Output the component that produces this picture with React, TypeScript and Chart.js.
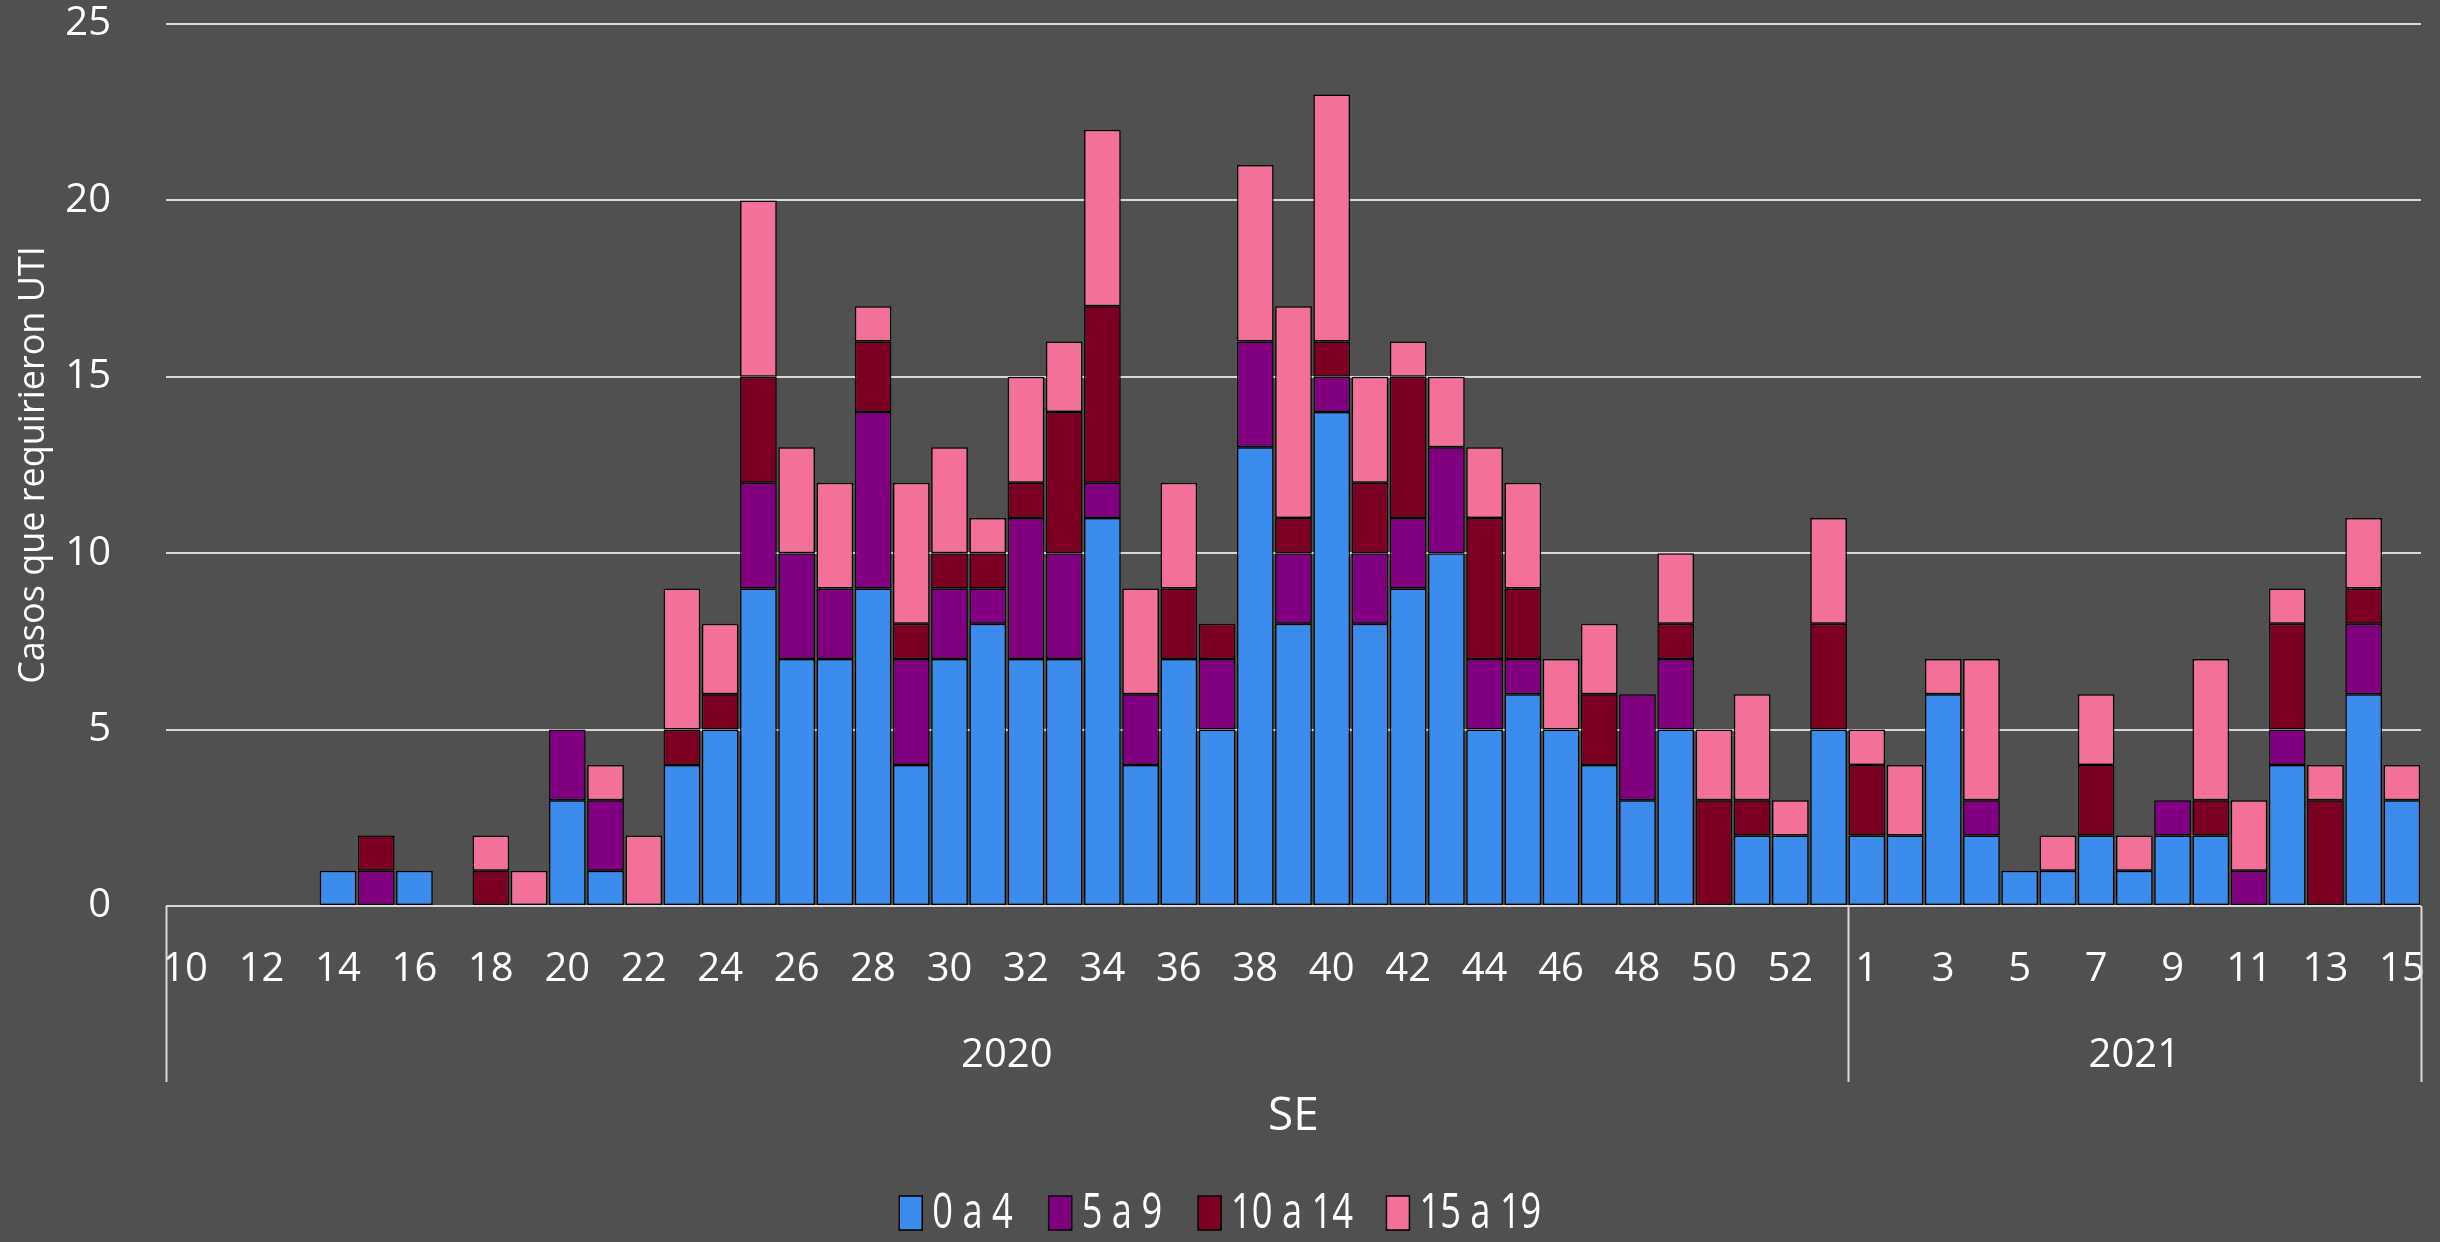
import { useEffect, useRef } from 'react';
import { Chart, registerables } from 'chart.js';

Chart.register(...registerables);

// ---- Data ----
const weeks2020 = ['10', '11', '12', '13', '14', '15', '16', '17', '18', '19', '20', '21', '22', '23', '24', '25', '26', '27', '28', '29', '30', '31', '32', '33', '34', '35', '36', '37', '38', '39', '40', '41', '42', '43', '44', '45', '46', '47', '48', '49', '50', '51', '52', '53'];
const weeks2021 = ['1', '2', '3', '4', '5', '6', '7', '8', '9', '10', '11', '12', '13', '14', '15'];
const years = ['2020', '2021'];

const seriesNames = ['0 a 4', '5 a 9', '10 a 14', '15 a 19'];
const seriesColors = ['#3b8cec', '#800080', '#7b0021', '#f37099'];

// 2020 weeks 10..53, then 2021 weeks 1..15
const age0to4 = [0, 0, 0, 0, 1, 0, 1, 0, 0, 0, 3, 1, 0, 4, 5, 9, 7, 7, 9, 4, 7, 8, 7, 7, 11, 4, 7, 5, 13, 8, 14, 8, 9, 10, 5, 6, 5, 4, 3, 5, 0, 2, 2, 5,
  2, 2, 6, 2, 1, 1, 2, 1, 2, 2, 0, 4, 0, 6, 3];
const age5to9 = [0, 0, 0, 0, 0, 1, 0, 0, 0, 0, 2, 2, 0, 0, 0, 3, 3, 2, 5, 3, 2, 1, 4, 3, 1, 2, 0, 2, 3, 2, 1, 2, 2, 3, 2, 1, 0, 0, 3, 2, 0, 0, 0, 0,
  0, 0, 0, 1, 0, 0, 0, 0, 1, 0, 1, 1, 0, 2, 0];
const age10to14 = [0, 0, 0, 0, 0, 1, 0, 0, 1, 0, 0, 0, 0, 1, 1, 3, 0, 0, 2, 1, 1, 1, 1, 4, 5, 0, 2, 1, 0, 1, 1, 2, 4, 0, 4, 2, 0, 2, 0, 1, 3, 1, 0, 3,
  2, 0, 0, 0, 0, 0, 2, 0, 0, 1, 0, 3, 3, 1, 0];
const age15to19 = [0, 0, 0, 0, 0, 0, 0, 0, 1, 1, 0, 1, 2, 4, 2, 5, 3, 3, 1, 4, 3, 1, 3, 2, 5, 3, 3, 0, 5, 6, 7, 3, 1, 2, 2, 3, 2, 2, 0, 2, 2, 3, 1, 3,
  1, 2, 1, 4, 0, 1, 2, 1, 0, 4, 2, 1, 1, 2, 1];

const yMin = 0;
const yMax = 25;
const yStep = 5;

const yTitle = 'Casos que requirieron UTI';
const xTitle = 'SE';

const labels = [...weeks2020, ...weeks2021];
const seriesValues = [age0to4, age5to9, age10to14, age15to19];
const yearCounts = [weeks2020.length, weeks2021.length];

const BG = '#505050';
const GRID = '#d9d9d9';
const LEGEND_FONT = 34;
const LEGEND_BOX_W = 23;

const yearGroupPlugin = {
  id: 'yearGroups',
  afterDraw(chart: any) {
    const { ctx, chartArea } = chart;
    const x = chart.scales.x;
    const half = (x.getPixelForValue(1) - x.getPixelForValue(0)) / 2;
    const top = chartArea.bottom;
    const bottom = top + 176;
    ctx.save();
    ctx.strokeStyle = GRID;
    ctx.lineWidth = 2;
    let start = 0;
    let leftEdge = chartArea.left;
    const edges: number[] = [leftEdge];
    const centers: number[] = [];
    yearCounts.forEach((count, i) => {
      const end = start + count - 1;
      const rightEdge = i === yearCounts.length - 1 ? chartArea.right : x.getPixelForValue(end) + half;
      edges.push(rightEdge);
      centers.push((leftEdge + rightEdge) / 2);
      leftEdge = rightEdge;
      start += count;
    });
    edges.forEach((ex) => {
      const px = Math.round(ex) + 0.5;
      ctx.beginPath();
      ctx.moveTo(px, top);
      ctx.lineTo(px, bottom);
      ctx.stroke();
    });
    ctx.fillStyle = '#ffffff';
    ctx.font = '40px "Open Sans"';
    ctx.textAlign = 'center';
    ctx.textBaseline = 'middle';
    years.forEach((yr, i) => {
      ctx.fillText(yr, centers[i], top + 150);
    });
    ctx.restore();
  },
};

// Draws the legend texts in a condensed face inside the legend's own hit boxes
const condensedLegendPlugin = {
  id: 'condensedLegend',
  afterDraw(chart: any) {
    const legend = chart.legend;
    if (!legend || !legend.legendItems) return;
    const { ctx } = chart;
    ctx.save();
    ctx.fillStyle = '#ffffff';
    ctx.font = '49px "Open Sans"';
    ctx.textAlign = 'left';
    ctx.textBaseline = 'middle';
    legend.legendItems.forEach((item: any, i: number) => {
      const hb = legend.legendHitBoxes[i];
      if (!hb) return;
      const tx = hb.left + LEGEND_BOX_W + 10;
      const ty = hb.top + hb.height / 2 + 1;
      ctx.save();
      ctx.translate(tx, ty);
      ctx.scale(0.74, 1);
      ctx.fillText(item.text, 0, 0);
      ctx.restore();
    });
    ctx.restore();
  },
};

export default function App() {
  const canvasRef = useRef<HTMLCanvasElement | null>(null);

  useEffect(() => {
    document.body.style.margin = '0';
    document.body.style.background = BG;
    const canvas = canvasRef.current;
    if (!canvas) return;
    Chart.defaults.font.family = '"Open Sans", sans-serif';
    Chart.defaults.color = '#ffffff';

    const chart = new Chart(canvas, {
      type: 'bar',
      data: {
        labels,
        datasets: seriesNames.map((name, i) => ({
          label: name,
          data: seriesValues[i].map((v) => (v === 0 ? null : v)),
          backgroundColor: seriesColors[i],
          borderColor: '#000000',
          borderWidth: 1.5,
          borderSkipped: false,
          barPercentage: 0.96,
          categoryPercentage: 1,
          yAxisID: 'y',
        })),
      },
      options: {
        responsive: false,
        animation: false,
        layout: { padding: { top: 23, right: 0, bottom: 2, left: 0 } },
        scales: {
          x: {
            stacked: true,
            grid: {
              display: true,
              color: 'rgba(0,0,0,0)',
              drawTicks: true,
              tickLength: 40,
              tickColor: 'rgba(0,0,0,0)',
            },
            border: { display: false },
            ticks: {
              autoSkip: false,
              maxRotation: 0,
              minRotation: 0,
              padding: 0,
              font: { size: 40 },
              color: '#ffffff',
              callback: (_v: any, idx: number) => (idx % 2 === 0 ? labels[idx] : ''),
            },
            title: {
              display: true,
              text: xTitle,
              font: { size: 46 },
              color: '#ffffff',
              padding: { top: 0, bottom: 18 },
            },
            afterFit: (scale: any) => {
              scale.height = 256;
            },
          },
          y: {
            stacked: true,
            min: yMin,
            max: yMax,
            grid: {
              color: GRID,
              lineWidth: 2,
              drawTicks: true,
              tickLength: 55,
              tickColor: 'rgba(0,0,0,0)',
            },
            border: { display: false },
            ticks: {
              stepSize: yStep,
              padding: 0,
              font: { size: 40 },
              color: '#ffffff',
            },
            title: {
              display: true,
              text: yTitle,
              font: { size: 36 },
              color: '#ffffff',
              padding: { top: 12, bottom: 0 },
            },
            afterFit: (scale: any) => {
              scale.width = 166;
            },
          },
          // empty right-hand spacer axis keeping the plot clear of the right edge
          yRight: {
            position: 'right',
            display: true,
            grid: { display: false, drawTicks: false },
            border: { display: false },
            ticks: { display: false },
            afterFit: (scale: any) => {
              scale.width = 19;
            },
          },
        },
        plugins: {
          legend: {
            position: 'bottom',
            labels: {
              color: 'rgba(0,0,0,0)',
              font: { size: LEGEND_FONT },
              boxWidth: LEGEND_BOX_W,
              boxHeight: 34,
              padding: 34,
            },
          },
          tooltip: { enabled: false },
        },
      },
      plugins: [yearGroupPlugin, condensedLegendPlugin],
    } as any);

    return () => chart.destroy();
  }, []);

  return (
    <div style={{ width: 2440, height: 1242, background: BG }}>
      <canvas ref={canvasRef} width={2440} height={1242} />
    </div>
  );
}
